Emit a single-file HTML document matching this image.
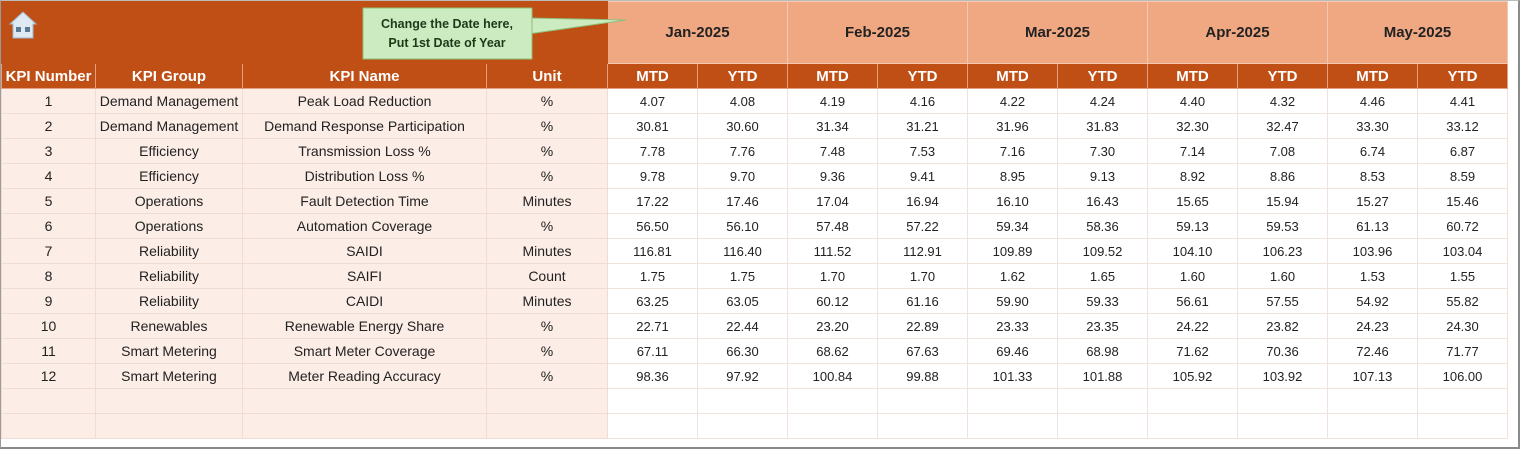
<!DOCTYPE html>
<html><head><meta charset="utf-8"><style>
html,body{margin:0;padding:0;background:#fff;}
body{width:1524px;height:453px;position:relative;overflow:hidden;font-family:"Liberation Sans",sans-serif;}
#frame{position:absolute;left:0;top:0;width:1520px;height:449px;border-right:2px solid #8a8a8a;border-bottom:2px solid #8a8a8a;border-left:1px solid #9a9a9a;border-top:1px solid #bbb;box-sizing:border-box;}
table{position:absolute;left:1px;top:1px;border-collapse:collapse;table-layout:fixed;}
td{padding:0;text-align:center;white-space:nowrap;overflow:hidden;border:1px solid #f0dcd2;height:24px;font-size:13px;color:#222;}
.top td{height:61px;}
.dark{background:#bf4f15;border-color:#bf4f15;}
.month{background:#f0a882;border-color:#f6c8b0;font-weight:bold;font-size:15px;color:#222;}
.hdr td{background:#bf4f15;color:#fff;font-weight:bold;font-size:15px;border-color:#e3a080;}
.l{background:#fcede6;font-size:14px;}
.v{background:#fff;border-color:#efe3dc;}
</style></head><body>
<div id="frame"></div>
<table id="tbl">
<colgroup><col style="width:94px"><col style="width:147px"><col style="width:244px"><col style="width:121px">
<col style="width:90px"><col style="width:90px"><col style="width:90px"><col style="width:90px"><col style="width:90px"><col style="width:90px"><col style="width:90px"><col style="width:90px"><col style="width:90px"><col style="width:90px"></colgroup>
<tbody id="tb">
<tr class="top" id="toprow"><td colspan="4" class="dark"></td></tr>
<tr class="hdr" id="hdrrow"><td>KPI Number</td><td>KPI Group</td><td>KPI Name</td><td>Unit</td></tr>
</tbody>
</table>
<svg style="position:absolute;left:0;top:0" width="640" height="64">
<g transform="translate(10,12)">
<polygon points="13,0 0,12 3,12 3,26 23,26 23,12 26,12" fill="#dfe9f2" stroke="#9fb8cc" stroke-width="1"/>
<rect x="6" y="15" width="5" height="5" fill="#5a7a94"/><rect x="15" y="15" width="5" height="5" fill="#5a7a94"/>
</g>
<polygon points="528,18 626,20 528,34" fill="#cdebc0" stroke="#8dbf7c" stroke-width="1"/>
<rect x="363" y="8" width="169" height="51" fill="#cdebc0" stroke="#8dbf7c" stroke-width="1"/>
<text x="447" y="28" text-anchor="middle" font-family="Liberation Sans" font-size="12.5" font-weight="bold" fill="#1d3a1a">Change the Date here,</text>
<text x="447" y="47" text-anchor="middle" font-family="Liberation Sans" font-size="12.5" font-weight="bold" fill="#1d3a1a">Put 1st Date of Year</text>
</svg>
<script>
const months=["Jan-2025","Feb-2025","Mar-2025","Apr-2025","May-2025"];
const kpiNums=[1,2,3,4,5,6,7,8,9,10,11,12];
const kpiGroups=["Demand Management","Demand Management","Efficiency","Efficiency","Operations","Operations","Reliability","Reliability","Reliability","Renewables","Smart Metering","Smart Metering"];
const kpiNames=["Peak Load Reduction","Demand Response Participation","Transmission Loss %","Distribution Loss %","Fault Detection Time","Automation Coverage","SAIDI","SAIFI","CAIDI","Renewable Energy Share","Smart Meter Coverage","Meter Reading Accuracy"];
const units=["%","%","%","%","Minutes","%","Minutes","Count","Minutes","%","%","%"];
const janMTD=[4.07,30.81,7.78,9.78,17.22,56.50,116.81,1.75,63.25,22.71,67.11,98.36];
const janYTD=[4.08,30.60,7.76,9.70,17.46,56.10,116.40,1.75,63.05,22.44,66.30,97.92];
const febMTD=[4.19,31.34,7.48,9.36,17.04,57.48,111.52,1.70,60.12,23.20,68.62,100.84];
const febYTD=[4.16,31.21,7.53,9.41,16.94,57.22,112.91,1.70,61.16,22.89,67.63,99.88];
const marMTD=[4.22,31.96,7.16,8.95,16.10,59.34,109.89,1.62,59.90,23.33,69.46,101.33];
const marYTD=[4.24,31.83,7.30,9.13,16.43,58.36,109.52,1.65,59.33,23.35,68.98,101.88];
const aprMTD=[4.40,32.30,7.14,8.92,15.65,59.13,104.10,1.60,56.61,24.22,71.62,105.92];
const aprYTD=[4.32,32.47,7.08,8.86,15.94,59.53,106.23,1.60,57.55,23.82,70.36,103.92];
const mayMTD=[4.46,33.30,6.74,8.53,15.27,61.13,103.96,1.53,54.92,24.23,72.46,107.13];
const mayYTD=[4.41,33.12,6.87,8.59,15.46,60.72,103.04,1.55,55.82,24.30,71.77,106.00];
const series=[[janMTD,janYTD],[febMTD,febYTD],[marMTD,marYTD],[aprMTD,aprYTD],[mayMTD,mayYTD]];
const tbody=document.getElementById('tb');
const topRow=document.getElementById('toprow');
months.forEach(m=>{const td=document.createElement('td');td.colSpan=2;td.className='month';td.textContent=m;


topRow.appendChild(td);});
const hdrRow=document.getElementById('hdrrow');
months.forEach(()=>{['MTD','YTD'].forEach(t=>{const td=document.createElement('td');td.textContent=t;


hdrRow.appendChild(td);});});
for(let i=0;i<14;i++){
 const tr=document.createElement('tr');
 
 
 const lv=i<12?[kpiNums[i],kpiGroups[i],kpiNames[i],units[i]]:['','','',''];
 lv.forEach(v=>{const td=document.createElement('td');td.className='l';td.textContent=v;
 
 
 tr.appendChild(td);});
 series.forEach(p=>p.forEach(arr=>{const td=document.createElement('td');td.className='v';td.textContent=i<12?arr[i].toFixed(2):'';
 
 
 tr.appendChild(td);}));
 tbody.appendChild(tr);
}
</script>
</body></html>
